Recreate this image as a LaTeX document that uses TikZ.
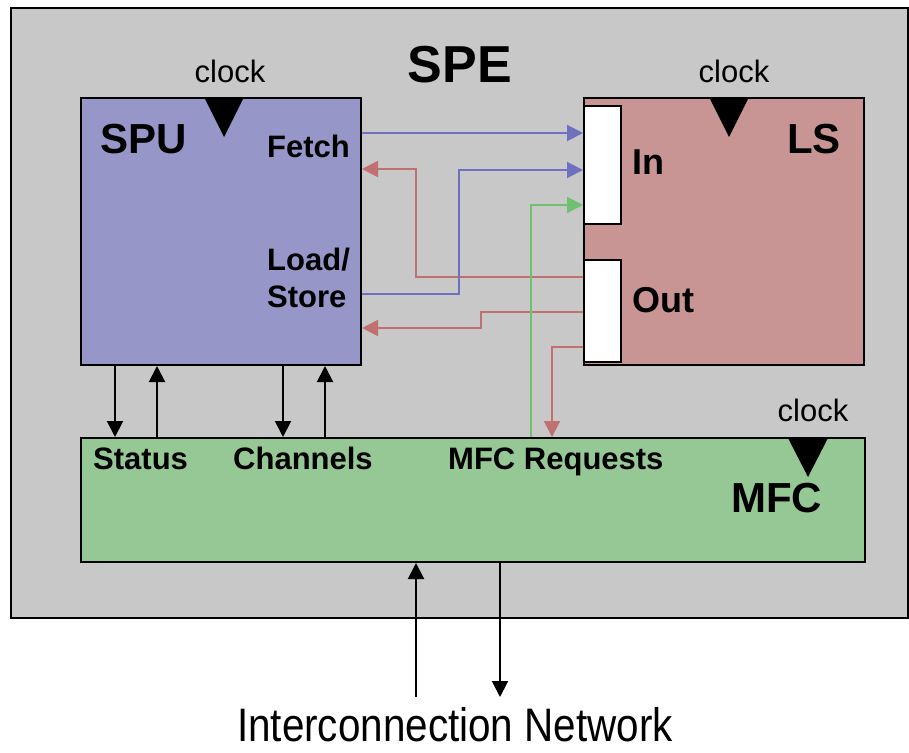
\documentclass[tikz,border=0pt]{standalone}
\usepackage{fontspec}
\setmainfont{Liberation Sans}
\newfontfamily\netfont[FakeStretch=0.86]{Liberation Sans}
\usetikzlibrary{arrows.meta}

\definecolor{bggray}{RGB}{200,200,200}
\definecolor{spufill}{RGB}{150,150,200}
\definecolor{lsfill}{RGB}{200,148,148}
\definecolor{mfcfill}{RGB}{150,200,150}
\definecolor{blueline}{RGB}{112,112,192}
\definecolor{redline}{RGB}{192,112,112}
\definecolor{greenline}{RGB}{112,192,112}

\tikzset{
  unit/.style={draw=black, line width=2pt, inner sep=0pt, anchor=north west},
  port/.style={draw=black, fill=white, line width=2pt, inner sep=0pt, anchor=north west,
               minimum width=37pt},
  tip/.style={-{Triangle[length=16pt,width=16pt]}},
  flowblue/.style={tip, draw=blueline, line width=2pt},
  flowred/.style={tip, draw=redline, line width=2pt},
  flowgreen/.style={tip, draw=greenline, line width=2pt},
  flowblack/.style={tip, draw=black, line width=2pt},
  clocktri/.style={fill=black},
  bigtitle/.style={inner sep=0pt, anchor=base, font=\bfseries\fontsize{52}{60}\selectfont},
  unitname/.style={inner sep=0pt, anchor=base west, font=\bfseries\fontsize{42}{48}\selectfont},
  portname/.style={inner sep=0pt, anchor=base west, font=\bfseries\fontsize{36}{42}\selectfont},
  signame/.style={inner sep=0pt, anchor=base west, font=\bfseries\fontsize{31}{37}\selectfont},
  clocklabel/.style={inner sep=0pt, anchor=base, font=\fontsize{31}{37}\selectfont},
}

\begin{document}
\begin{tikzpicture}[x=1pt, y=-1pt]
  % page
  \fill[white] (0,0) rectangle (909,752);
  \useasboundingbox (0,0) rectangle (909,752);

  % SPE enclosure
  \node[unit, fill=bggray, minimum width=897pt, minimum height=610pt] (spe) at (10,7) {};
  \node[bigtitle] (spetitle) at (460,82) {SPE};

  % functional units
  \node[unit, fill=spufill, minimum width=280pt, minimum height=267pt] (spu) at (80,97) {};
  \node[unit, fill=lsfill, minimum width=280pt, minimum height=267pt] (ls) at (583,97) {};
  \node[unit, fill=mfcfill, minimum width=784pt, minimum height=124pt] (mfc) at (80,437) {};

  % LS ports
  \node[port, minimum height=118pt] (inport) at (583,105) {};
  \node[port, minimum height=102pt] (outport) at (583,259) {};

  % clock inputs
  \fill[clocktri] (204,97) -- (244,97) -- (224,137) -- cycle;
  \fill[clocktri] (709,97) -- (749,97) -- (729,137) -- cycle;
  \fill[clocktri] (788,438) -- (828,438) -- (808,477) -- cycle;
  \node[clocklabel] (clkspu) at (230,82) {clock};
  \node[clocklabel] (clkls) at (734,82) {clock};
  \node[clocklabel] (clkmfc) at (813,421) {clock};

  % labels
  \node[unitname] (spuname) at (100,153) {SPU};
  \node[unitname] (lsname) at (787,153) {LS};
  \node[unitname] (mfcname) at (731,512) {MFC};
  \node[signame] (fetch) at (267,157) {Fetch};
  \node[signame] (load) at (267,270) {Load/};
  \node[signame] (store) at (267,307) {Store};
  \node[portname] (inname) at (632,174) {In};
  \node[portname] (outname) at (632,312) {Out};
  \node[signame] (status) at (93,469) {Status};
  \node[signame] (channels) at (233,469) {Channels};
  \node[signame] (requests) at (448,469) {MFC Requests};

  % SPU <-> LS traffic
  \draw[flowblue] (spu.east |- 0,133) -- (inport.west |- 0,133);
  \draw[flowred] (outport.west |- 0,277) -| (416,169) -- (spu.east |- 0,169);
  \draw[flowblue] (spu.east |- 0,294) -| (459,170) -- (inport.west |- 0,170);
  \draw[flowred] (outport.west |- 0,312) -| (481,328) -- (spu.east |- 0,328);

  % MFC <-> LS traffic
  \draw[flowgreen] (mfc.north -| 531,0) |- (inport.west |- 0,205);
  \draw[flowred] (outport.west |- 0,347) -| (mfc.north -| 552,0);

  % SPU <-> MFC status and channels
  \draw[flowblack] (spu.south -| 115,0) -- (mfc.north -| 115,0);
  \draw[flowblack] (mfc.north -| 157,0) -- (spu.south -| 157,0);
  \draw[flowblack] (spu.south -| 283,0) -- (mfc.north -| 283,0);
  \draw[flowblack] (mfc.north -| 325,0) -- (spu.south -| 325,0);

  % interconnection network
  \coordinate (netin) at (416,697);
  \coordinate (netout) at (500,697);
  \draw[flowblack] (netin) -- (mfc.south -| netin);
  \draw[flowblack] (mfc.south -| netout) -- (netout);
  \node[inner sep=0pt, anchor=base, font=\netfont\fontsize{47}{56}\selectfont] (network) at (455,741) {Interconnection Network};
\end{tikzpicture}
\end{document}
